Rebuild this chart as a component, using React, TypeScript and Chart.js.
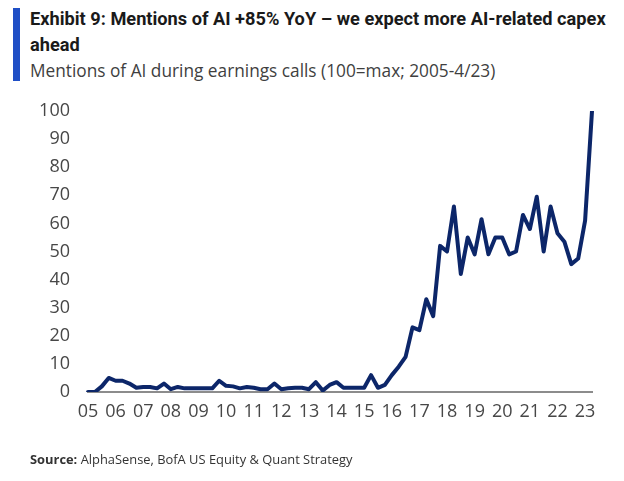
import React, { useEffect, useLayoutEffect, useRef, useState } from "react";
import { Chart, registerables } from "chart.js";

Chart.register(...registerables);

const TITLE_LINE_1 = "Exhibit 9: Mentions of AI +85% YoY – we expect more AI-related capex";
const TITLE_LINE_2 = "ahead";
const SUBTITLE = "Mentions of AI during earnings calls (100=max; 2005-4/23)";
const SOURCE_LABEL = "Source:";
const SOURCE_TEXT = " AlphaSense, BofA US Equity & Quant Strategy";

const YEARS = ["05", "06", "07", "08", "09", "10", "11", "12", "13", "14", "15", "16", "17", "18", "19", "20", "21", "22", "23"];
const QUARTERS = ["Q1", "Q2", "Q3", "Q4"];

// Quarterly AI-mentions index, 2005Q1 .. 2023Q2
const MENTIONS = [
  0, 0, 2, 5,
  4, 4, 3, 1.5,
  1.8, 1.8, 1.3, 3,
  1, 1.8, 1.3, 1.3,
  1.3, 1.3, 1.3, 4,
  2.2, 2, 1.3, 1.8,
  1.5, 1, 1, 3,
  1, 1.3, 1.5, 1.5,
  1, 3.5, 0.5, 2.5,
  3.5, 1.5, 1.5, 1.5,
  1.5, 6, 1.5, 2.5,
  6, 9, 12.5, 23,
  22, 33, 27, 52,
  50, 66, 42, 55,
  49, 61.5, 49, 55,
  55, 49, 50, 63,
  58, 69.5, 50, 66,
  56.5, 53.5, 45.5, 47.5,
  61, 100,
];

const Y_TICKS = [0, 10, 20, 30, 40, 50, 60, 70, 80, 90, 100];

const LABELS: string[] = [];
YEARS.forEach((y) => QUARTERS.forEach((q) => LABELS.push(y + q)));
const CATEGORIES = LABELS.slice(0, MENTIONS.length);

function FitText(props: { width: number; style: React.CSSProperties; children: React.ReactNode }) {
  const ref = useRef<HTMLDivElement>(null);
  const [scale, setScale] = useState(1);
  useLayoutEffect(() => {
    if (ref.current) {
      const w = ref.current.offsetWidth;
      if (w > 0) setScale(props.width / w);
    }
  }, [props.width]);
  return (
    <div
      ref={ref}
      style={{
        ...props.style,
        position: "absolute",
        display: "inline-block",
        whiteSpace: "nowrap",
        transform: `scaleX(${scale})`,
        transformOrigin: "left top",
      }}
    >
      {props.children}
    </div>
  );
}

export default function App() {
  const canvasRef = useRef<HTMLCanvasElement>(null);

  useEffect(() => {
    if (!canvasRef.current) return;
    const tickFont = { family: "'Open Sans', sans-serif", size: 18 };
    const chart = new Chart(canvasRef.current, {
      type: "line",
      data: {
        labels: CATEGORIES,
        datasets: [
          {
            data: MENTIONS,
            borderColor: "#0c2669",
            borderWidth: 4,
            pointRadius: 0,
            tension: 0,
            borderJoinStyle: "round",
            borderCapStyle: "round",
            fill: false,
          },
        ],
      },
      options: {
        responsive: false,
        animation: false,
        plugins: { legend: { display: false }, tooltip: { enabled: false }, title: { display: false } },
        layout: { padding: { left: 0, right: 32, top: 111, bottom: 49 } },
        scales: {
          x: {
            type: "category",
            offset: false,
            grid: { display: false, drawTicks: false },
            border: { display: true, color: "#8c8c8c", width: 2 },
            ticks: {
              autoSkip: false,
              maxRotation: 0,
              minRotation: 0,
              padding: 9,
              font: tickFont,
              color: "#474747",
              callback: function (this: any, val: any) {
                const l = this.getLabelForValue(val) as string;
                return l.endsWith("Q1") ? l.slice(0, 2) : "";
              },
            },
            afterFit: (s: any) => {
              s.height = 40;
            },
          },
          y: {
            min: 0,
            max: 100,
            afterBuildTicks: (s: any) => {
              s.ticks = Y_TICKS.map((v) => ({ value: v }));
            },
            grid: { display: false, drawTicks: false },
            border: { display: false },
            ticks: { padding: 18, font: tickFont, color: "#474747" },
            afterFit: (s: any) => {
              s.width = 88;
            },
          },
        },
      } as any,
    });
    return () => chart.destroy();
  }, []);

  return (
    <div style={{ position: "absolute", left: 0, top: 0, width: 624, height: 481, background: "#fff", overflow: "hidden" }}>
      <div style={{ position: "absolute", left: 13, top: 8, width: 7, height: 73, background: "#1f4fc6" }} />
      <FitText
        width={576}
        style={{ left: 30, top: 6, fontFamily: "Roboto, sans-serif", fontWeight: 700, fontSize: 19, lineHeight: "26px", color: "#1a1a1a" }}
      >
        {TITLE_LINE_1}
        <br />
        {TITLE_LINE_2}
      </FitText>
      <FitText
        width={465}
        style={{ left: 30, top: 58, fontFamily: "'Open Sans', sans-serif", fontWeight: 400, fontSize: 18, lineHeight: "24px", color: "#3f3f3f" }}
      >
        {SUBTITLE}
      </FitText>
      <canvas ref={canvasRef} width={624} height={481} style={{ position: "absolute", left: 0, top: 0, width: 624, height: 481 }} />
      <FitText
        width={322}
        style={{ left: 30, top: 450, fontFamily: "'Open Sans', sans-serif", fontSize: 13, lineHeight: "18px", color: "#333" }}
      >
        <b>{SOURCE_LABEL}</b>
        {SOURCE_TEXT}
      </FitText>
    </div>
  );
}
